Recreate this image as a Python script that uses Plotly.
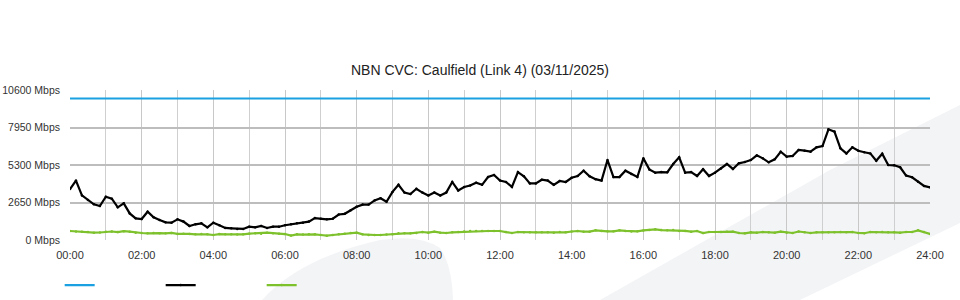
import plotly.graph_objects as go
import pandas as pd

title_text = "NBN CVC: Caulfield (Link 4) (03/11/2025)"
day_start = "2025-11-03 00:00"
day_end = "2025-11-04 00:00"

capacity_mbps = 10000

# download traffic, 10-minute samples (00:00 .. 24:00)
download_mbps = [
    3600, 4200, 3150, 2830, 2520, 2400,
    3060, 2920, 2310, 2590, 1880, 1530,
    1480, 2000, 1600, 1410, 1250, 1225,
    1460, 1300, 990, 1110, 1180, 895,
    1225, 1040, 850, 825, 780, 780,
    940, 895, 990, 850, 940, 940,
    1040, 1110, 1180, 1225, 1300, 1550,
    1500, 1460, 1500, 1800, 1850, 2100,
    2350, 2500, 2500, 2800, 2950, 2700,
    3400, 3900, 3350, 3250, 3620, 3350,
    3150, 3350, 3150, 3350, 4100, 3500,
    3750, 3850, 4050, 3900, 4450, 4600,
    4200, 4100, 3750, 4800, 4500, 4000,
    4000, 4260, 4200, 3900, 4170, 4100,
    4400, 4520, 4900, 4500, 4300, 4200,
    5650, 4450, 4450, 4900, 4660, 4450,
    5770, 4990, 4760, 4800, 4780, 5370,
    5840, 4760, 4800, 4520, 5000, 4520,
    4760, 5060, 5370, 5020, 5420, 5510,
    5650, 5980, 5770, 5490, 5700, 6240,
    5890, 5940, 6360, 6310, 6240, 6550,
    6640, 7820, 7660, 6480, 6120, 6550,
    6310, 6200, 6120, 5600, 6100, 5300,
    5280, 5140, 4550, 4430, 4120, 3820,
    3720,
]

# upload traffic, 10-minute samples
upload_mbps = [
    636, 600, 589, 560, 518, 530,
    589, 600, 560, 620, 589, 518,
    495, 471, 495, 480, 471, 500,
    430, 440, 430, 400, 420, 400,
    353, 420, 400, 400, 380, 400,
    450, 471, 450, 518, 480, 440,
    420, 310, 400, 380, 400, 400,
    353, 306, 353, 400, 450, 500,
    518, 400, 353, 353, 353, 380,
    400, 471, 471, 471, 500, 565,
    518, 589, 520, 495, 542, 560,
    600, 636, 636, 636, 636, 636,
    636, 560, 495, 565, 542, 542,
    542, 542, 542, 520, 565, 542,
    600, 636, 589, 589, 683, 640,
    612, 612, 683, 640, 600, 612,
    680, 707, 754, 700, 683, 700,
    640, 640, 589, 636, 495, 565,
    565, 565, 589, 589, 495, 471,
    542, 518, 565, 540, 518, 589,
    520, 495, 600, 540, 495, 542,
    542, 542, 542, 565, 542, 565,
    495, 480, 565, 542, 560, 542,
    542, 520, 565, 565, 683, 565,
    424,
]

y_tick_values = [0, 2650, 5300, 7950, 10600]
y_tick_labels = ["0 Mbps", "2650 Mbps", "5300 Mbps", "7950 Mbps", "10600 Mbps"]
x_tick_labels = ["00:00", "02:00", "04:00", "06:00", "08:00", "10:00", "12:00",
                 "14:00", "16:00", "18:00", "20:00", "22:00", "24:00"]

times = pd.date_range(day_start, day_end, freq="10min")
x_tick_values = pd.date_range(day_start, day_end, freq="2h")

FONT = "Liberation Sans, Arial, sans-serif"

fig = go.Figure()
fig.add_trace(go.Scatter(x=[times[0], times[-1]], y=[capacity_mbps, capacity_mbps],
                         mode="lines", name=" ",
                         line=dict(color="#1ba1e2", width=2.2)))
fig.add_trace(go.Scatter(x=times, y=download_mbps, mode="lines+markers", name=" ",
                         line=dict(color="#000000", width=2.2),
                         marker=dict(size=2.5, color="#000000")))
fig.add_trace(go.Scatter(x=times, y=upload_mbps, mode="lines+markers", name=" ",
                         line=dict(color="#7dc12c", width=2.2),
                         marker=dict(size=2.5, color="#7dc12c")))

# faint background watermark (paper coordinates from pixel positions)
L, R, T, B = 70, 930, 90, 240
def P(px, py):
    return f"{(px - L) / (R - L):.4f},{(B - py) / (B - T):.4f}"

band = ("M " + P(600, 300) + " L " + P(830, 170) + " L " + P(960, 105) +
        " L " + P(960, 223) + " L " + P(800, 300) + " Z")
blob = ("M " + P(262, 300) + " Q " + P(300, 258) + " " + P(380, 240) +
        " Q " + P(420, 234) + " " + P(440, 248) + " Q " + P(452, 265) + " " + P(453, 300) + " Z")
shapes = [
    dict(type="path", path=band, xref="paper", yref="paper", fillcolor="#f3f4f6",
         line=dict(width=0), layer="below"),
    dict(type="path", path=blob, xref="paper", yref="paper", fillcolor="#f3f4f6",
         line=dict(width=0), layer="below"),
]

fig.update_layout(
    width=960, height=300,
    margin=dict(l=70, r=30, t=90, b=60),
    paper_bgcolor="#ffffff", plot_bgcolor="rgba(0,0,0,0)",
    font=dict(family=FONT, size=11, color="#333333"),
    title=dict(text=title_text, x=0.5, xanchor="center", y=1 - 70 / 300, yanchor="middle",
               font=dict(family=FONT, size=14, color="#222222")),
    shapes=shapes,
    showlegend=True,
    legend=dict(orientation="h", x=-0.012, xanchor="left",
                yref="container", y=0.098, yanchor="top",
                entrywidth=56, entrywidthmode="pixels", font=dict(size=11),
                bgcolor="rgba(0,0,0,0)"),
    xaxis=dict(type="date", range=[day_start, day_end], automargin=False,
               tickvals=x_tick_values, ticktext=x_tick_labels,
               showgrid=True, gridcolor="#c8c8c8", gridwidth=1,
               minor=dict(dtick=3600000, tick0=day_start, showgrid=True,
                          gridcolor="#cfcfcf", gridwidth=1),
               zeroline=False, showline=False, ticks="", ticklabelstandoff=7,
               tickfont=dict(family=FONT, size=11, color="#333333")),
    yaxis=dict(range=[0, 10600], tickvals=y_tick_values, ticktext=y_tick_labels,
               automargin=False,
               showgrid=True, gridcolor="#bdbdbd", gridwidth=2,
               zeroline=False, showline=False, ticks="", ticklabelstandoff=9,
               tickfont=dict(family=FONT, size=10.5, color="#333333")),
)

fig.write_html("out.html")
